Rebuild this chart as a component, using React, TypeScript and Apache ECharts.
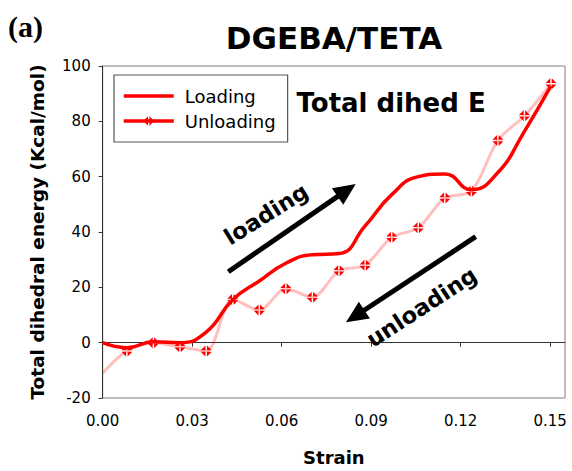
import React, { useEffect, useRef } from "react";
import * as echarts from "echarts";

// Strain sampled along the loading/unloading cycle
const strain = [
  0, 0.0081, 0.017, 0.0259, 0.0347, 0.0436, 0.0525, 0.0614, 0.0703, 0.0792,
  0.088, 0.0969, 0.1058, 0.1147, 0.1236, 0.1325, 0.1414, 0.1503,
];

// Total dihedral energy (Kcal/mol)
const loadingEnergy = [
  0, -1.8, 0.3, 0, 3.8, 15.5, 22.3, 28.7, 31.8, 32.2, 42.2, 53.5, 60, 61, 55.3,
  61.5, 76.4, 92.8,
];
const unloadingEnergy = [
  -11, -3, 0, -1.5, -3, 15.6, 11.8, 19.5, 16.4, 26, 28, 38.1, 41.5, 52.3, 54.7,
  73.1, 82, 93.6,
];

const xTicks = [0, 0.03, 0.06, 0.09, 0.12, 0.15];
const yTicks = [-20, 0, 20, 40, 60, 80, 100];

const FONT = "DejaVu Sans";

// diamond split by a thin cross
const DIAMOND_CROSS =
  "path://M5.6 0.6 L9.4 4.4 L5.6 4.4 Z M4.4 0.6 L0.6 4.4 L4.4 4.4 Z M5.6 9.4 L9.4 5.6 L5.6 5.6 Z M4.4 9.4 L0.6 5.6 L4.4 5.6 Z";

function arrow(tail: [number, number], tip: [number, number]) {
  const dx = tip[0] - tail[0];
  const dy = tip[1] - tail[1];
  const len = Math.hypot(dx, dy);
  const ux = dx / len;
  const uy = dy / len;
  const headLen = 22;
  const headHalf = 10;
  const bx = tip[0] - ux * headLen;
  const by = tip[1] - uy * headLen;
  return [
    {
      type: "line",
      shape: { x1: tail[0], y1: tail[1], x2: bx + ux * 2, y2: by + uy * 2 },
      style: { stroke: "#000", lineWidth: 5 },
      z: 10,
    },
    {
      type: "polygon",
      shape: {
        points: [
          [tip[0], tip[1]],
          [bx - uy * headHalf, by + ux * headHalf],
          [bx + uy * headHalf, by - ux * headHalf],
        ],
      },
      style: { fill: "#000" },
      z: 10,
    },
  ];
}

export default function App() {
  const ref = useRef<HTMLDivElement>(null);

  useEffect(() => {
    if (!ref.current) return;
    const chart = echarts.init(ref.current, undefined, { renderer: "svg" });

    const deg = Math.PI / 180;

    chart.setOption({
      animation: false,
      backgroundColor: "#fff",
      grid: {
        left: 102.7,
        right: 7,
        top: 66,
        bottom: 72.7,
        show: true,
        borderColor: "#7f7f7f",
        borderWidth: 1,
      },
      legend: {
        orient: "vertical",
        left: 114,
        top: 75,
        padding: [11, 12, 11, 8],
        itemWidth: 50,
        itemHeight: 12,
        itemGap: 5,
        borderColor: "#555",
        borderWidth: 1.2,
        borderRadius: 0,
        textStyle: {
          fontFamily: FONT,
          fontSize: 18,
          color: "#000",
          lineHeight: 20,
          padding: [0, 0, 0, 6],
        },
        data: [
          {
            name: "Loading",
            lineStyle: { color: "#ff0000", width: 3.5, opacity: 1 },
            itemStyle: { opacity: 0 },
          },
          {
            name: "Unloading",
            lineStyle: { color: "#ff0000", width: 3.5, opacity: 1 },
            itemStyle: { color: "#ff0000" },
          },
        ],
      },
      xAxis: {
        type: "value",
        min: 0,
        max: 0.155,
        interval: 0.03,
        splitLine: { show: false },
        axisLine: { show: true, lineStyle: { color: "#333", width: 1 } },
        axisTick: {
          show: true,
          length: 4,
          customValues: xTicks,
          lineStyle: { color: "#333" },
        },
        axisLabel: {
          customValues: xTicks,
          formatter: (v: number) => v.toFixed(2),
          fontFamily: FONT,
          fontSize: 15,
          color: "#000",
          margin: 15,
        },
        name: "Strain",
        nameLocation: "middle",
        nameGap: 50,
        nameTextStyle: {
          fontFamily: FONT,
          fontWeight: "bold",
          fontSize: 18,
          color: "#000",
        },
      },
      yAxis: {
        type: "value",
        min: -20,
        max: 100,
        interval: 20,
        splitLine: { show: false },
        axisLine: { show: true, lineStyle: { color: "#333", width: 1 } },
        axisTick: {
          show: true,
          length: 4,
          customValues: yTicks,
          lineStyle: { color: "#333" },
        },
        axisLabel: {
          customValues: yTicks,
          fontFamily: FONT,
          fontSize: 15,
          color: "#000",
          margin: 12,
        },
        name: "Total dihedral energy (Kcal/mol)",
        nameLocation: "middle",
        nameGap: 56,
        nameTextStyle: {
          fontFamily: FONT,
          fontWeight: "bold",
          fontSize: 18.5,
          color: "#000",
        },
      },
      series: [
        {
          name: "Loading",
          type: "line",
          smooth: 0.5,
          showSymbol: false,
          symbol: "none",
          lineStyle: { color: "#ff0000", width: 3.5 },
          itemStyle: { color: "#ff0000" },
          data: strain.map((s, i) => [s, loadingEnergy[i]]),
          z: 2,
        },
        {
          name: "Unloading",
          type: "line",
          smooth: 0.3,
          symbol: DIAMOND_CROSS,
          symbolSize: 11,
          lineStyle: { color: "rgba(255,0,0,0.25)", width: 3 },
          itemStyle: { color: "#ff0000" },
          data: strain.map((s, i) =>
            i === 0
              ? { value: [s, unloadingEnergy[i]], symbol: "none" }
              : [s, unloadingEnergy[i]]
          ),
          z: 3,
        },
      ],
      graphic: [
        {
          type: "text",
          x: 8,
          y: 26,
          style: {
            text: "(a)",
            fontFamily: "Liberation Serif",
            fontWeight: "bold",
            fontSize: 30,
            fill: "#000",
            align: "left",
            verticalAlign: "middle",
          },
        },
        {
          type: "text",
          x: 334,
          y: 37.5,
          style: {
            text: "DGEBA/TETA",
            fontFamily: FONT,
            fontWeight: "bold",
            fontSize: 31,
            fill: "#000",
            align: "center",
            verticalAlign: "middle",
          },
        },
        {
          type: "text",
          x: 296.5,
          y: 103,
          style: {
            text: "Total dihed E",
            fontFamily: FONT,
            fontWeight: "bold",
            fontSize: 26,
            fill: "#000",
            align: "left",
            verticalAlign: "middle",
          },
          z: 10,
        },
        ...arrow([228.3, 271.7], [355.7, 184]),
        ...arrow([475.7, 236.7], [346, 322.3]),
        {
          type: "text",
          x: 266,
          y: 214,
          rotation: 32 * deg,
          style: {
            text: "loading",
            fontFamily: FONT,
            fontWeight: "bold",
            fontSize: 22.5,
            fill: "#000",
            align: "center",
            verticalAlign: "middle",
          },
          z: 10,
        },
        {
          type: "text",
          x: 421.5,
          y: 307,
          rotation: 33 * deg,
          style: {
            text: "unloading",
            fontFamily: FONT,
            fontWeight: "bold",
            fontSize: 22.5,
            fill: "#000",
            align: "center",
            verticalAlign: "middle",
          },
          z: 10,
        },
      ],
    });

    return () => chart.dispose();
  }, []);

  return (
    <div
      ref={ref}
      style={{ position: "absolute", left: 0, top: 0, width: 572, height: 471 }}
    />
  );
}
